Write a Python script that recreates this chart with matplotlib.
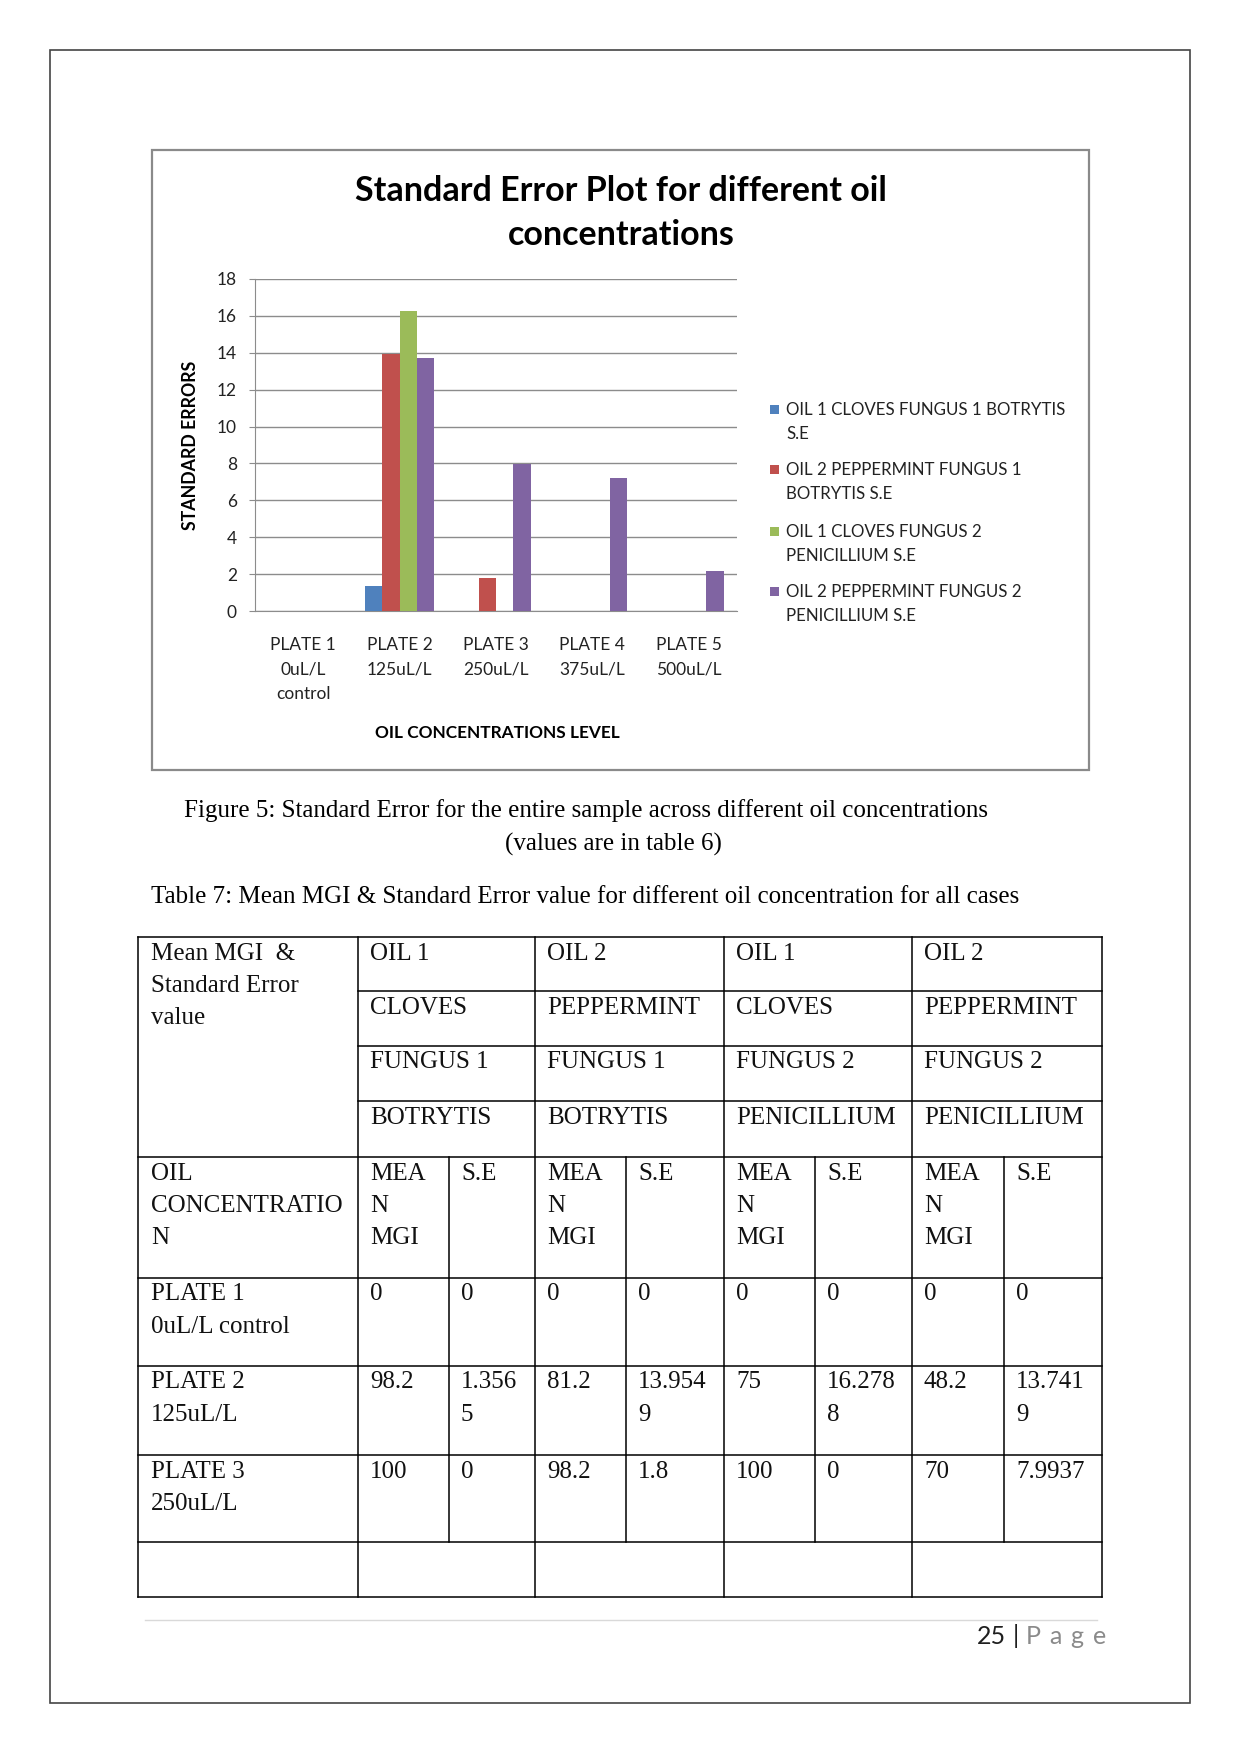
import matplotlib.pyplot as plt
from matplotlib.patches import Rectangle
import numpy as np

W, H = 1241, 1755

plates = ['PLATE 1\n0uL/L\ncontrol', 'PLATE 2\n125uL/L', 'PLATE 3\n250uL/L',
          'PLATE 4\n375uL/L', 'PLATE 5\n500uL/L']
series_names = [['OIL 1 CLOVES FUNGUS 1 BOTRYTIS', 'S.E'],
                ['OIL 2 PEPPERMINT FUNGUS 1', 'BOTRYTIS S.E'],
                ['OIL 1 CLOVES FUNGUS 2', 'PENICILLIUM S.E'],
                ['OIL 2 PEPPERMINT FUNGUS 2', 'PENICILLIUM S.E']]
se_cloves_f1 = [0, 1.3565, 0, 0, 0]
se_pepper_f1 = [0, 13.9549, 1.8, 0, 0]
se_cloves_f2 = [0, 16.2788, 0, 0, 0]
se_pepper_f2 = [0, 13.7419, 7.9937, 7.2, 2.17]
colors = ['#4F81BD', '#C0504D', '#9BBB59', '#8064A2']

# table data
oil_names = ['OIL 1', 'OIL 2', 'OIL 1', 'OIL 2']
oil_types = ['CLOVES', 'PEPPERMINT', 'CLOVES', 'PEPPERMINT']
fungus_nums = ['FUNGUS 1', 'FUNGUS 1', 'FUNGUS 2', 'FUNGUS 2']
fungus_names = ['BOTRYTIS', 'BOTRYTIS', 'PENICILLIUM', 'PENICILLIUM']
row_labels = ['PLATE 1\n0uL/L control', 'PLATE 2\n125uL/L', 'PLATE 3\n250uL/L']
mean_mgi = [['0', '0', '0', '0'],
            ['98.2', '81.2', '75', '48.2'],
            ['100', '98.2', '100', '70']]
se_cells = [['0', '0', '0', '0'],
            ['1.356\n5', '13.954\n9', '16.278\n8', '13.741\n9'],
            ['0', '1.8', '0', '7.9937']]

fig = plt.figure(figsize=(W / 100, H / 100), dpi=100)
bg = fig.add_axes([0, 0, 1, 1])
bg.set_xlim(0, W)
bg.set_ylim(H, 0)
bg.axis('off')

SERIF = 'Liberation Serif'
SANS = 'Lato'


def lines(x, y, txt, step, **kw):
    for i, t in enumerate(txt.split('\n')):
        bg.text(x, y + i * step, t, va='baseline', **kw)


# page border
bg.add_patch(Rectangle((50, 50), 1140, 1653, fill=False, ec='#444444', lw=1.2))

# chart frame + title
bg.add_patch(Rectangle((152, 150), 937, 620, fill=False, ec='#8a8a8a', lw=1.6))
bg.text(621, 191, 'Standard Error Plot for different oil', ha='center', va='center',
        family=SANS, weight='bold', fontsize=24.5)
bg.text(621, 235, 'concentrations', ha='center', va='center',
        family=SANS, weight='bold', fontsize=24.5)
bg.text(190, 445, 'STANDARD ERRORS', rotation=90, ha='center', va='center',
        family=SANS, weight='bold', fontsize=12.8)
bg.text(497, 733, 'OIL CONCENTRATIONS LEVEL', ha='center', va='center',
        family=SANS, weight='bold', fontsize=12.4)

# bars
ax = fig.add_axes([255 / W, 1 - 611 / H, 482 / W, 332 / H])
ax.set_facecolor('none')
x = np.arange(len(plates))
bw = 0.18
for k, vals in enumerate([se_cloves_f1, se_pepper_f1, se_cloves_f2, se_pepper_f2]):
    ax.bar(x + (k - 1.5) * bw, vals, bw, color=colors[k], lw=0, zorder=3)
ax.set_xlim(-0.5, 4.5)
ax.set_ylim(0, 18)
ax.set_yticks(range(0, 19, 2))
ax.yaxis.grid(True, color='#8c8c8c', lw=1)
ax.set_axisbelow(True)
for s in ['top', 'right']:
    ax.spines[s].set_visible(False)
ax.spines['left'].set_color('#8c8c8c')
ax.spines['bottom'].set_color('#8c8c8c')
ax.tick_params(axis='y', length=4, color='#8c8c8c', pad=9, labelsize=12.5,
               labelcolor='#222222', labelfontfamily=SANS)
ax.set_xticks(x)
ax.set_xticklabels(plates, fontsize=12.5, family=SANS, color='#222222', linespacing=1.62)
ax.tick_params(axis='x', length=0, pad=19)

# legend
leg_y = [410, 470, 532, 592]
for k, (l1, l2) in enumerate(series_names):
    bg.add_patch(Rectangle((770, leg_y[k] - 5), 9, 9, color=colors[k], lw=0))
    bg.text(786, leg_y[k], l1, va='center', family=SANS, fontsize=12.2, color='#222222')
    bg.text(786, leg_y[k] + 24, l2, va='center', family=SANS, fontsize=12.2, color='#222222')

# captions
bg.text(586, 811, 'Figure 5: Standard Error for the entire sample across different oil concentrations',
        ha='center', va='center', family=SERIF, fontsize=18)
bg.text(613, 844, '(values are in table 6)', ha='center', va='center', family=SERIF, fontsize=18)
bg.text(151, 897, 'Table 7: Mean MGI & Standard Error value for different oil concentration for all cases',
        ha='left', va='center', family=SERIF, fontsize=18)

# table grid
cx = [138, 358, 449, 535, 626, 724, 815, 912, 1004, 1102]
ry = [937, 991, 1046, 1101, 1157, 1278, 1366, 1455, 1542, 1597]
lw = 1.1
bg.plot([cx[0], cx[-1]], [ry[0], ry[0]], color='k', lw=lw)
bg.plot([cx[0], cx[-1]], [ry[-1], ry[-1]], color='k', lw=lw)
for yy in ry[1:4]:
    bg.plot([cx[1], cx[-1]], [yy, yy], color='k', lw=lw)
for yy in ry[4:-1]:
    bg.plot([cx[0], cx[-1]], [yy, yy], color='k', lw=lw)
for i in [0, 1, 3, 5, 7, 9]:
    bg.plot([cx[i], cx[i]], [ry[0], ry[-1]], color='k', lw=lw)
for i in [2, 4, 6, 8]:
    bg.plot([cx[i], cx[i]], [ry[4], ry[-2]], color='k', lw=lw)

tk = dict(family=SERIF, fontsize=18, color='#111111')
step = 32.5
lines(cx[0] + 13, ry[0] + 22.5, 'Mean MGI  &\nStandard Error\nvalue', step, **tk)
for j in range(4):
    xl = cx[1 + 2 * j] + 12
    for r, arr in enumerate([oil_names, oil_types, fungus_nums, fungus_names]):
        lines(xl, ry[r] + 22.5, arr[j], step, **tk)
lines(cx[0] + 13, ry[4] + 22.5, 'OIL\nCONCENTRATIO\nN', step, **tk)
for j in range(4):
    lines(cx[1 + 2 * j] + 12, ry[4] + 22.5, 'MEA\nN\nMGI', step, **tk)
    lines(cx[2 + 2 * j] + 12, ry[4] + 22.5, 'S.E', step, **tk)
for r in range(3):
    lines(cx[0] + 13, ry[5 + r] + 22.5, row_labels[r], step, **tk)
    for j in range(4):
        lines(cx[1 + 2 * j] + 12, ry[5 + r] + 22.5, mean_mgi[r][j], step, **tk)
        lines(cx[2 + 2 * j] + 12, ry[5 + r] + 22.5, se_cells[r][j], step, **tk)

# footer
bg.plot([145, 1097], [1620, 1620], color='#d9d9d9', lw=1)
bg.text(977, 1637, '25', va='center', family=SANS, fontsize=18, color='#1f1f1f')
bg.text(1013, 1636, '|', va='center', family=SANS, fontsize=18, color='#1f1f1f')
for ch, xx in zip('Page', [1033, 1055, 1077, 1100]):
    bg.text(xx, 1637, ch, va='center', ha='center', family=SANS, fontsize=18, color='#8a8a8a')

fig.savefig('out.png', dpi=100, facecolor='white')
